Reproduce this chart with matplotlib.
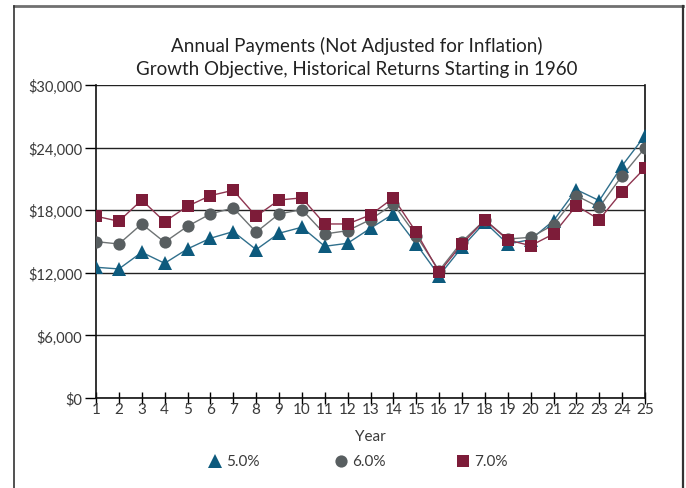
import matplotlib

matplotlib.use("Agg")
import matplotlib.pyplot as plt
from matplotlib.lines import Line2D

plt.rcParams["font.family"] = ["Lato", "DejaVu Sans"]

# Annual payment per year
YEARS = list(range(1, 26))
RATE_5 = [12530, 12370, 13970, 12910, 14290, 15310, 15950, 14220, 15790, 16370,
          14540, 14830, 16270, 17640, 14760, 11730, 14450, 16840, 14760, 15180,
          17000, 19970, 18920, 22270, 25150]
RATE_6 = [14990, 14760, 16680, 14930, 16460, 17640, 18220, 15890, 17640, 18060,
          15720, 16040, 17100, 18600, 15560, 12210, 14990, 17070, 15240, 15400,
          16590, 19400, 18280, 21310, 23970]
RATE_7 = [17420, 16940, 18980, 16900, 18380, 19400, 19910, 17420, 18980, 19180,
          16680, 16680, 17550, 19180, 15890, 12050, 14760, 17070, 15150, 14600,
          15720, 18440, 17100, 19780, 22050]
Y_TICKS = [0, 6000, 12000, 18000, 24000, 30000]
Y_LABELS = ["$0", "$6,000", "$12,000", "$18,000", "$24,000", "$30,000"]
SERIES = [
    ("5.0%", RATE_5, "^", "#0d5a7d", "#2f6f8c", 9.5),
    ("6.0%", RATE_6, "o", "#585e60", "#6e7374", 8.8),
    ("7.0%", RATE_7, "s", "#7d1c39", "#8e3550", 8.2),
]

fig = plt.figure(figsize=(6.86, 4.89), dpi=100)
fw, fh = 686, 489
ax = fig.add_axes([96 / fw, 1 - 399 / fh, (645 - 96) / fw, (399 - 86) / fh])

# outer frame of the exhibit (no bottom edge)
fig.add_artist(Line2D([13.5 / fw, 683 / fw], [1 - 7 / fh, 1 - 7 / fh], color="#707070",
                      lw=2, transform=fig.transFigure))
fig.add_artist(Line2D([13.5 / fw, 13.5 / fw], [0, 1 - 7 / fh], color="#333333",
                      lw=1.2, transform=fig.transFigure))
fig.add_artist(Line2D([683 / fw, 683 / fw], [0, 1 - 7 / fh], color="#333333",
                      lw=1.6, transform=fig.transFigure))

for label, values, marker, color, line_color, size in SERIES:
    ax.plot(YEARS, values, color=line_color, lw=1.0, zorder=3)
    ax.plot(YEARS, values, linestyle="none", marker=marker, markersize=size,
            color=color, markeredgewidth=0, zorder=4)

ax.set_xlim(1, 25)
ax.set_ylim(0, 30000)
ax.set_xticks(YEARS)
ax.set_yticks(Y_TICKS, Y_LABELS)
ax.yaxis.grid(True, color="#222222", lw=1.0)
ax.set_axisbelow(True)
for side in ["left", "right", "bottom"]:
    ax.spines[side].set_color("#111111")
    ax.spines[side].set_linewidth(1.2)
ax.spines["top"].set_visible(False)
ax.tick_params(axis="x", direction="inout", length=8, width=1, labelsize=11,
               labelcolor="#3a3a3a", pad=-1)
ax.tick_params(axis="y", direction="out", length=8, width=1, labelsize=10.5,
               labelcolor="#3a3a3a", pad=2)
ax.set_xlabel("Year", fontsize=11, color="#3a3a3a", labelpad=9)

fig.text(357 / fw, 1 - 46 / fh, "Annual Payments (Not Adjusted for Inflation)",
         ha="center", va="center", fontsize=13.5, color="#222222")
fig.text(357 / fw, 1 - 70 / fh, "Growth Objective, Historical Returns Starting in 1960",
         ha="center", va="center", fontsize=13.5, color="#222222")

# legend drawn as markers plus text in a row
legend_y = 1 - 462 / fh
for (label, values, marker, color, line_color, size), mx in zip(SERIES, [215, 341, 463]):
    fig.add_artist(Line2D([mx / fw], [legend_y], marker=marker, color=color,
                          markersize=size, markeredgewidth=0,
                          linestyle="none", transform=fig.transFigure))
    fig.text((mx + 11) / fw, legend_y, label, ha="left", va="center", fontsize=11,
             color="#3a3a3a")

fig.savefig("out.png", dpi=100)
